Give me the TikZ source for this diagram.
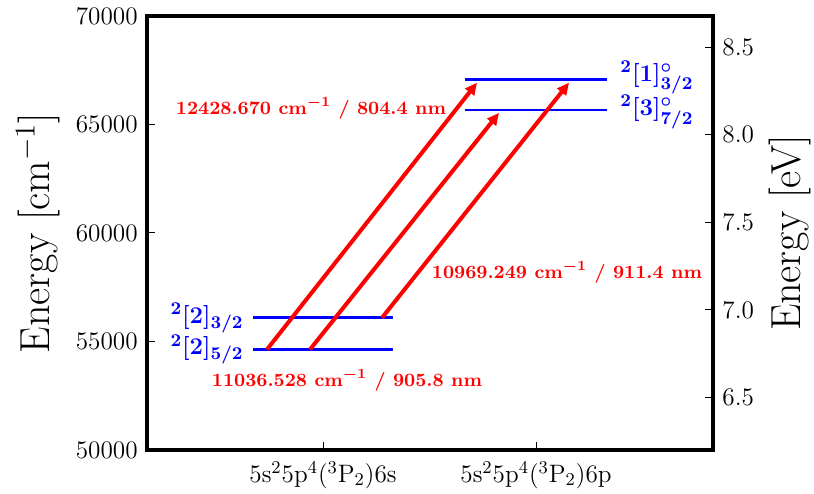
\documentclass[tikz,border=0pt]{standalone}
\usepackage{amsmath}
\usetikzlibrary{arrows.meta}
% energy in 1000 cm^-1 above 50000 -> picture y
\newcommand\Ey[1]{43+21.7*(#1)}
\tikzset{
    level/.style={draw=blue,line width=1.4pt},
    trans/.style={draw=red,line width=2pt,-{Triangle[length=6pt,width=5.5pt]}},
    levlabel/.style={text=blue,inner sep=0.5pt,font=\fontsize{13}{15}\selectfont\boldmath},
    translabel/.style={text=red,inner sep=0pt,font=\fontsize{9.4}{11}\selectfont\bfseries\boldmath},
    axtick/.style={line width=0.5pt,draw=black},
    ticklabel/.style={inner sep=0pt,font=\fontsize{12.6}{14}\selectfont},
    axlabel/.style={inner sep=0pt,rotate=90,font=\fontsize{21}{24}\selectfont}
}
\begin{document}
\begin{tikzpicture}[x=0.5pt,y=0.5pt]
  \useasboundingbox (0,0) rectangle (814,493);

  % frame
  \draw[line width=1.6pt] (147,43) rectangle (713,477);

  % left axis: cm^-1
  \foreach \e in {5,10,15}{\draw[axtick] (147,{\Ey{\e}}) -- ++(8,0);}
  \foreach \e/\t in {0/50000,5/55000,10/60000,15/65000,20/70000}{
    \node[ticklabel,anchor=east] (yl\e) at (138,{\Ey{\e}}) {\t};
  }
  \node[axlabel] (ylab) at (38,260) {Energy [cm$^{-1}$]};

  % right axis: eV
  \foreach \v/\n in {6.5/a,7.0/b,7.5/c,8.0/d,8.5/e}{
    \pgfmathsetmacro\e{\v*8.06554-50}
    \draw[axtick] (713,{\Ey{\e}}) -- ++(-8,0);
    \node[ticklabel,anchor=west] (yr\n) at (722,{\Ey{\e}}) {\v};
  }
  \node[axlabel] (yrlab) at (790,260) {Energy [eV]};

  % bottom axis: configurations
  \foreach \x in {323,536}{\draw[axtick] (\x,43) -- ++(0,8);}
  \node[ticklabel,anchor=base] (cfgs) at (323,11) {5s$^2$5p$^4$($^3$P$_2$)6s};
  \node[ticklabel,anchor=base] (cfgp) at (536,11) {5s$^2$5p$^4$($^3$P$_2$)6p};

  % levels
  \coordinate (L1a) at (253,{\Ey{4.6335}});  \coordinate (L1b) at (393,{\Ey{4.6335}});
  \coordinate (L2a) at (253,{\Ey{6.0929}});  \coordinate (L2b) at (393,{\Ey{6.0929}});
  \coordinate (U1a) at (465,{\Ey{15.6696}}); \coordinate (U1b) at (607,{\Ey{15.6696}});
  \coordinate (U2a) at (465,{\Ey{17.062}});  \coordinate (U2b) at (607,{\Ey{17.062}});
  \foreach \A/\B in {L1a/L1b,L2a/L2b,U1a/U1b,U2a/U2b}{\draw[level] (\A) -- (\B);}

  \node[levlabel,left=4pt]  (nL1) at (L1a) {$^{2}[2]_{5/2}$};
  \node[levlabel,left=4pt]  (nL2) at (L2a) {$^{2}[2]_{3/2}$};
  \node[levlabel,right=6pt,yshift=-1pt] (nU1) at (U1b) {$^{2}[3]^{\circ}_{7/2}$};
  \node[levlabel,right=6pt,yshift=1pt]  (nU2) at (U2b) {$^{2}[1]^{\circ}_{3/2}$};

  % transitions
  \coordinate (T1s) at (267,{\Ey{4.6335}});  \coordinate (T1e) at (477,{\Ey{17.062}-3});
  \coordinate (T2s) at (310,{\Ey{4.6335}});  \coordinate (T2e) at (499,{\Ey{15.6696}-3});
  \coordinate (T3s) at (382,{\Ey{6.0929}});  \coordinate (T3e) at (569,{\Ey{17.062}-3});
  \foreach \P in {T1,T2,T3}{\draw[trans] (\P s) -- (\P e);}

  \node[translabel] (nT1) at (311,385) {12428.670 cm$^{-1}$ / 804.4 nm};
  \node[translabel] (nT2) at (347,113) {11036.528 cm$^{-1}$ / 905.8 nm};
  \node[translabel] (nT3) at (567,221) {10969.249 cm$^{-1}$ / 911.4 nm};
\end{tikzpicture}
\end{document}
